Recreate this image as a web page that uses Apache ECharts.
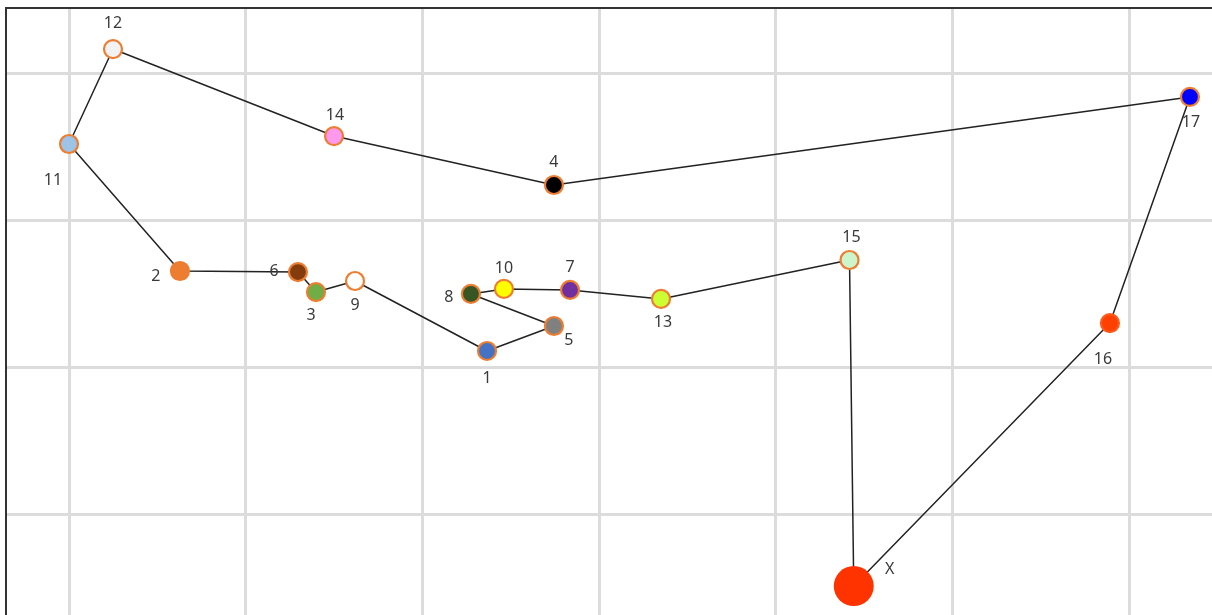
<!DOCTYPE html>
<html>
<head>
<meta charset="utf-8">
<script src="https://cdn.jsdelivr.net/npm/echarts@6/dist/echarts.min.js"></script>
<style>
  html, body { margin: 0; padding: 0; background: #fff; }
  #main { width: 1212px; height: 615px; }
</style>
</head>
<body>
<div id="main"></div>
<script>
  // 点位名称与坐标
  const names = ['1', '2', '3', '4', '5', '6', '7', '8', '9', '10', '11', '12', '13', '14', '15', '16', '17', 'X'];
  const xs = [336.6, 162.8, 239.8, 374.5, 374.5, 229.6, 383.6, 327.5, 261.9, 346.2, 100.0, 124.9, 435.1, 250.0, 541.8, 689.2, 734.5, 544.2];
  const ys = [210.9, 265.3, 251.0, 323.8, 227.9, 264.6, 252.4, 249.7, 258.5, 253.1, 351.7, 416.3, 246.3, 357.1, 272.8, 229.9, 383.7, 51.0];
  // 路线顺序
  const route = ['X', '15', '13', '7', '10', '8', '5', '1', '9', '3', '6', '2', '11', '12', '14', '4', '17', '16', 'X'];

  // 样式：填充色、标签偏移
  const fills = {
    '1': '#4472C4', '2': '#ED7D31', '3': '#70AD47', '4': '#000000', '5': '#808080',
    '6': '#843C0C', '7': '#7030A0', '8': '#375623', '9': '#FFFFFF', '10': '#FFFF00',
    '11': '#9DC3E6', '12': '#F2F2F2', '13': '#CCFF33', '14': '#FF99EE', '15': '#CCF5CC',
    '16': '#FF4000', '17': '#0000FF', 'X': '#FF3300'
  };
  const labelOffsets = {
    '1': [0, 27], '2': [-24, 5], '3': [-5, 23], '4': [0, -23], '5': [15, 14],
    '6': [-24, -1], '7': [0, -23], '8': [-22, 3], '9': [0, 24], '10': [0, -21],
    '11': [-16, 36], '12': [0, -26], '13': [2, 23], '14': [1, -21], '15': [2, -23],
    '16': [-7, 36], '17': [1, 25], 'X': [36, -17]
  };

  const chart = echarts.init(document.getElementById('main'));

  const pointData = names.map(function (n, i) {
    const isX = n === 'X';
    return {
      name: n,
      value: [xs[i], ys[i]],
      symbolSize: isX ? 40 : 18,
      itemStyle: {
        color: fills[n],
        opacity: 1,
        borderColor: isX ? fills[n] : (n === '16' ? '#FF5A1A' : '#ED7D31'),
        borderWidth: isX ? 0 : 2.2
      },
      label: { offset: labelOffsets[n] }
    };
  });

  const routeData = route.map(function (n) {
    const i = names.indexOf(n);
    return [xs[i], ys[i]];
  });

  chart.setOption({
    animation: false,
    grid: { left: -107.67, right: -93.67, top: -74, bottom: -46, outerBoundsMode: 'none', containLabel: false },
    xAxis: {
      type: 'value', min: 0, max: 800, interval: 100,
      axisLine: { show: false }, axisTick: { show: false }, axisLabel: { show: false },
      splitLine: { show: true, lineStyle: { color: '#DCDCDC', width: 3 } }
    },
    yAxis: {
      type: 'value', min: 0, max: 500, interval: 100,
      axisLine: { show: false }, axisTick: { show: false }, axisLabel: { show: false },
      splitLine: { show: true, lineStyle: { color: '#DCDCDC', width: 3 } }
    },
    series: [
      {
        type: 'line',
        data: routeData,
        symbol: 'none',
        lineStyle: { color: '#222222', width: 1.5 },
        z: 2
      },
      {
        type: 'scatter',
        data: pointData,
        z: 3,
        label: {
          show: true,
          position: 'inside',
          formatter: '{b}',
          color: '#3A3A3A',
          fontSize: 16,
          fontFamily: 'Noto Sans'
        }
      }
    ],
    graphic: [
      { type: 'rect', z: 100, shape: { x: 0, y: 0, width: 5, height: 615 }, style: { fill: '#fff' } },
      { type: 'rect', z: 100, shape: { x: 0, y: 0, width: 1212, height: 7 }, style: { fill: '#fff' } },
      { type: 'line', z: 101, shape: { x1: 6, y1: 7, x2: 6, y2: 615 }, style: { stroke: '#333', lineWidth: 2 } },
      { type: 'line', z: 101, shape: { x1: 5, y1: 8, x2: 1212, y2: 8 }, style: { stroke: '#333', lineWidth: 2 } }
    ]
  });
</script>
</body>
</html>
